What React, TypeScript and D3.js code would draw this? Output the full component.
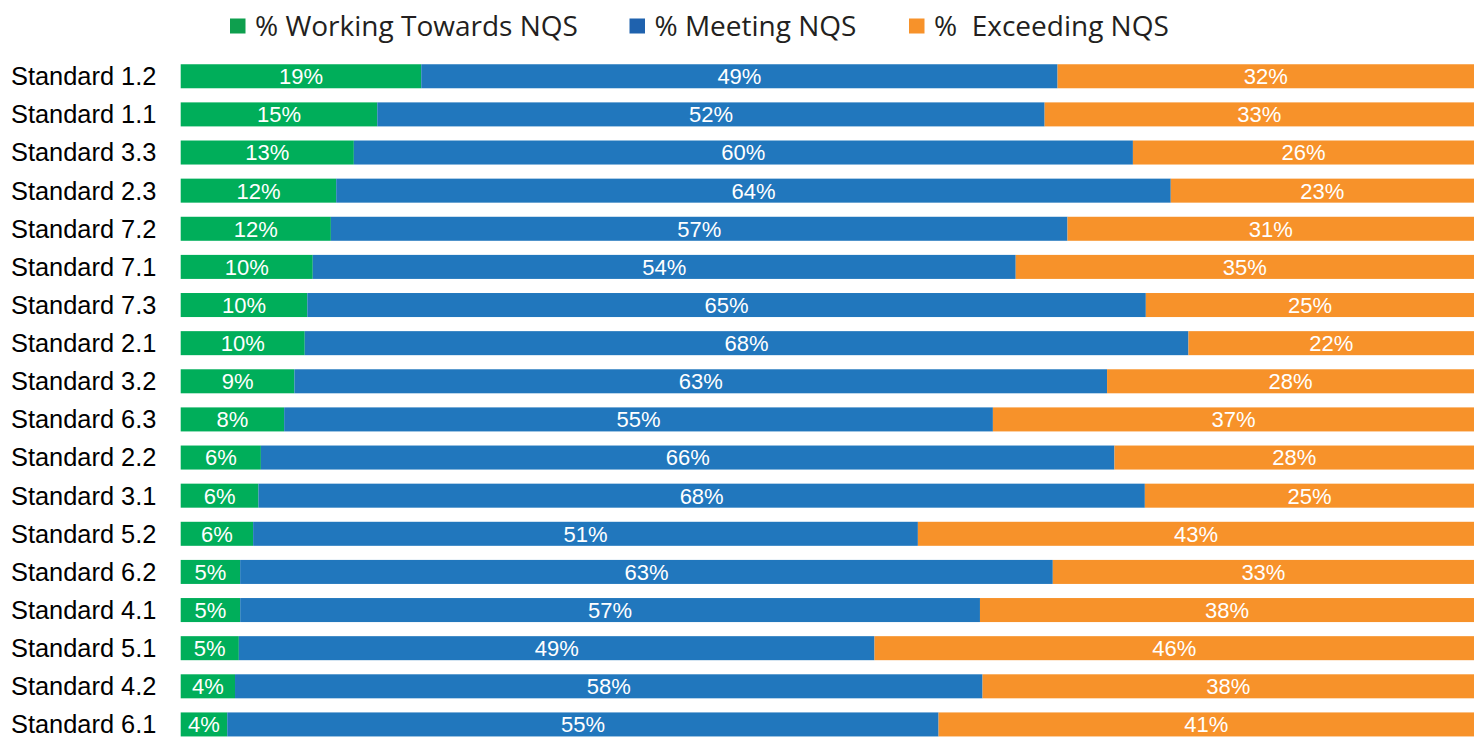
import React, { useEffect } from "react";
import * as d3 from "d3";

const categories = [
  "Standard 1.2", "Standard 1.1", "Standard 3.3", "Standard 2.3", "Standard 7.2", "Standard 7.1",
  "Standard 7.3", "Standard 2.1", "Standard 3.2", "Standard 6.3", "Standard 2.2", "Standard 3.1",
  "Standard 5.2", "Standard 6.2", "Standard 4.1", "Standard 5.1", "Standard 4.2", "Standard 6.1",
];
const working = [18.6, 15.2, 13.4, 12.0, 11.6, 10.2, 9.8, 9.6, 8.8, 8.0, 6.2, 6.0, 5.6, 4.6, 4.6, 4.5, 4.2, 3.6];
const meeting = [49.2, 51.6, 60.3, 64.4, 56.9, 54.3, 64.9, 68.4, 62.9, 54.8, 66.0, 68.4, 51.4, 62.9, 57.2, 49.2, 57.8, 55.0];
const exceeding = [32.2, 33.2, 26.4, 23.4, 31.4, 35.4, 25.4, 22.1, 28.4, 37.2, 27.8, 25.4, 43.0, 32.6, 38.2, 46.4, 38.0, 41.4];

const seriesKeys = ["working", "meeting", "exceeding"];
const seriesNames = ["% Working Towards NQS", "% Meeting NQS", "%  Exceeding NQS"];
const barColors = ["#00AE5A", "#2177BD", "#F7922A"];
const legendColors = ["#0E9F4E", "#1F62AE", "#F7922A"];

const W = 1480;
const H = 738;

export default function App() {
  useEffect(() => {
    document.body.style.margin = "0";
  }, []);

  const rows = categories.map((c, i) => ({
    cat: c,
    working: working[i],
    meeting: meeting[i],
    exceeding: exceeding[i],
  }));
  const stack = d3.stack<any>().keys(seriesKeys).offset(d3.stackOffsetExpand);
  const stacked = stack(rows);

  const x = d3.scaleLinear().domain([0, 1]).range([180.7, 1474]);
  const y = d3.scaleBand<string>().domain(categories).range([57.2, 743.5]).paddingInner(0.37).paddingOuter(0.185);

  const legendX = [230, 629.5, 909];

  return (
    <svg width={W} height={H} style={{ display: "block" }}>
      <rect width={W} height={H} fill="#fff" />
      {seriesNames.map((n, i) => (
        <g key={n} transform={`translate(${legendX[i]},0)`}>
          <rect x={0} y={18.5} width={15.5} height={15} fill={legendColors[i]} />
          <text x={25} y={26} dy="0.35em" fontFamily="'Open Sans', sans-serif" fontSize={28} fill="#231F20" style={{ whiteSpace: "pre" }}>
            {n}
          </text>
        </g>
      ))}
      {categories.map((c) => (
        <text key={c} x={11} y={(y(c) as number) + y.bandwidth() / 2} dy="0.35em" fontFamily="'Liberation Sans', Arial, sans-serif" fontSize={25.4} fill="#000">
          {c}
        </text>
      ))}
      {stacked.map((s, si) => (
        <g key={s.key}>
          {s.map((d: any, i: number) => (
            <rect key={i} x={x(d[0])} y={y(d.data.cat)} width={x(d[1]) - x(d[0])} height={y.bandwidth()} fill={barColors[si]} />
          ))}
          {s.map((d: any, i: number) => (
            <text
              key={"t" + i}
              x={(x(d[0]) + x(d[1])) / 2}
              y={(y(d.data.cat) as number) + y.bandwidth() / 2}
              dy="0.36em"
              textAnchor="middle"
              fontFamily="'Liberation Sans', Arial, sans-serif"
              fontSize={22}
              fill="#fff"
            >
              {Math.round(d.data[s.key])}%
            </text>
          ))}
        </g>
      ))}
    </svg>
  );
}
